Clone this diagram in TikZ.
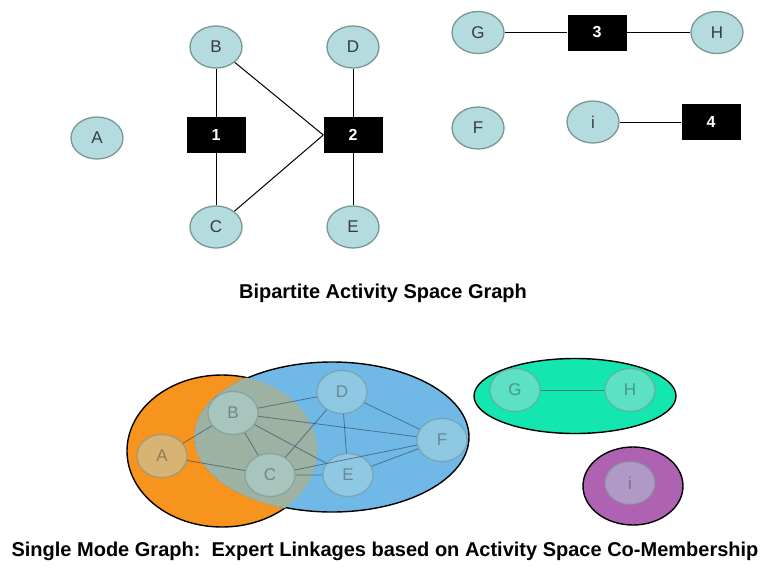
\documentclass[tikz,border=0pt]{standalone}
\usepackage{fontspec}
\setmainfont{Liberation Sans}
\usetikzlibrary{shapes.geometric}
\definecolor{vfill}{RGB}{180,220,222}
\definecolor{vborder}{RGB}{120,150,150}
\definecolor{vtext}{RGB}{55,60,60}
\definecolor{orangeset}{RGB}{247,148,29}
\definecolor{blueset}{RGB}{112,184,230}
\definecolor{greyset}{RGB}{157,178,162}
\definecolor{greenset}{RGB}{20,230,175}
\definecolor{purpleset}{RGB}{176,98,178}
\definecolor{sedge}{RGB}{60,90,110}
\begin{document}
\begin{tikzpicture}[x=1pt,y=-1pt,
  vtx/.style={ellipse, draw=vborder, fill=vfill, line width=1.3pt, minimum width=52pt, minimum height=42pt, inner sep=0pt, text=vtext, font=\fontsize{17}{17}\selectfont},
  act/.style={rectangle, fill=black, minimum width=59pt, minimum height=36pt, inner sep=0pt, text=white, font=\bfseries\fontsize{16}{16}\selectfont},
  svtx/.style={ellipse, draw=vborder, fill=vfill, fill opacity=0.45, draw opacity=0.6, text opacity=0.45, line width=1.3pt, minimum width=50pt, minimum height=43pt, inner sep=0pt, text=vtext, font=\fontsize{17}{17}\selectfont},
  link/.style={draw=black, line width=1pt},
  slink/.style={draw=sedge, line width=0.8pt, draw opacity=0.75},
  setline/.style={draw=black, line width=1.4pt},
  title/.style={font=\bfseries\fontsize{20}{20}\selectfont, inner sep=0pt}
]
\useasboundingbox (0,0) rectangle (766,571);
% ---------- bipartite graph ----------
\node[vtx] (A) at (97,138) {A};
\node[vtx] (B) at (216,47) {B};
\node[vtx] (C) at (216,227) {C};
\node[vtx] (D) at (353,47) {D};
\node[vtx] (E) at (353,227) {E};
\node[vtx] (F) at (478,128) {F};
\node[vtx] (G) at (478,32.5) {G};
\node[vtx] (H) at (717,32.5) {H};
\node[vtx] (I) at (593,122) {i};
\node[act] (n1) at (216,135) {1};
\node[act] (n2) at (353,135) {2};
\node[act] (n3) at (597,32.5) {3};
\node[act] (n4) at (711,122) {4};
\draw[link] (B) -- (n1) (C) -- (n1);
\draw[link] (B) -- (n2.west) (C) -- (n2.west);
\draw[link] (D) -- (n2) (E) -- (n2);
\draw[link] (G) -- (n3) (n3) -- (H);
\draw[link] (I) -- (n4);
\node[title] (t1) at (383,293) {Bipartite Activity Space Graph};
% ---------- single mode graph ----------
\fill[orangeset] (222,451) ellipse [x radius=95, y radius=76];
\draw[setline] (222,451) ellipse [x radius=95, y radius=76];
\fill[blueset] (332,437) ellipse [x radius=137, y radius=75];
\draw[setline] (332,437) ellipse [x radius=137, y radius=75];
\begin{scope}
  \clip (222,451) ellipse [x radius=95, y radius=76];
  \fill[greyset] (332,437) ellipse [x radius=138, y radius=76];
\end{scope}
\fill[greenset] (575,396) ellipse [x radius=101, y radius=37.5];
\draw[setline] (575,396) ellipse [x radius=101, y radius=37.5];
\fill[purpleset] (633,486) ellipse [x radius=50, y radius=39];
\draw[setline] (633,486) ellipse [x radius=50, y radius=39];
\node[svtx] (sA) at (162,456) {A};
\node[svtx] (sB) at (233,413) {B};
\node[svtx] (sC) at (270,475) {C};
\node[svtx] (sD) at (342,392) {D};
\node[svtx] (sE) at (348,475) {E};
\node[svtx] (sF) at (442,440) {F};
\node[svtx] (sG) at (515,390) {G};
\node[svtx] (sH) at (630,390) {H};
\node[svtx] (sI) at (630,483) {i};
\draw[slink] (sA) -- (sB) (sA) -- (sC) (sB) -- (sC);
\draw[slink] (sB) -- (sD) (sB) -- (sE) (sB) -- (sF);
\draw[slink] (sC) -- (sD) (sC) -- (sE) (sC) -- (sF);
\draw[slink] (sD) -- (sE) (sD) -- (sF) (sE) -- (sF);
\draw[slink] (sG) -- (sH);
\node[title] (t2) at (385,551) {Single Mode Graph:\ \ Expert Linkages based on Activity Space Co-Membership};
\end{tikzpicture}
\end{document}
